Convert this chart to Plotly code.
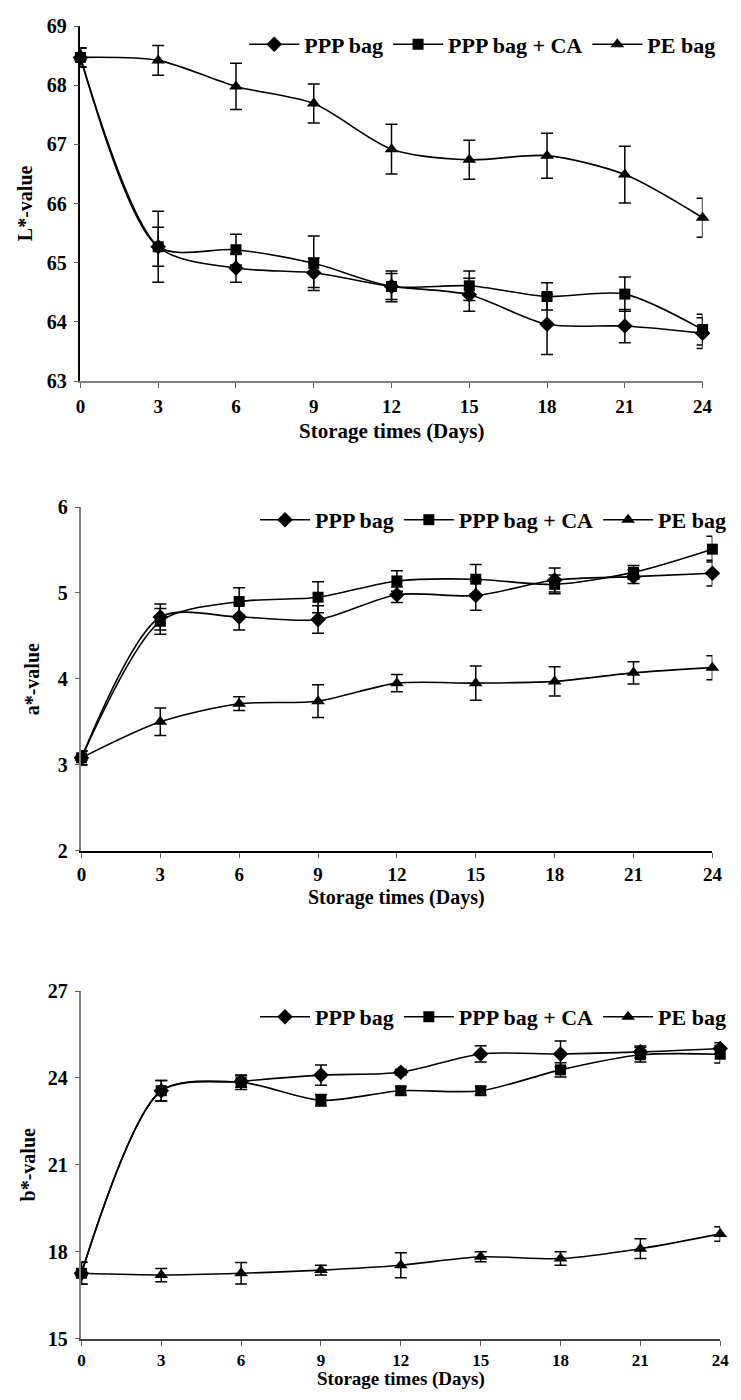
import plotly.graph_objects as go

days = [0, 3, 6, 9, 12, 15, 18, 21, 24]
x_ticks = [0, 3, 6, 9, 12, 15, 18, 21, 24]
series_names = ["PPP bag", "PPP bag + CA", "PE bag"]

# L*-value
L_ppp = [68.47, 65.27, 64.91, 64.83, 64.60, 64.46, 63.96, 63.93, 63.81]
L_ppp_err = [0.16, 0.33, 0.24, 0.25, 0.22, 0.28, 0.51, 0.28, 0.26]
L_ca = [68.47, 65.27, 65.22, 64.99, 64.60, 64.61, 64.43, 64.47, 63.87]
L_ca_err = [0.16, 0.60, 0.26, 0.46, 0.26, 0.25, 0.23, 0.29, 0.26]
L_pe = [68.47, 68.42, 67.98, 67.69, 66.92, 66.74, 66.81, 66.49, 65.76]
L_pe_err = [0.16, 0.25, 0.39, 0.33, 0.42, 0.33, 0.38, 0.48, 0.33]

# a*-value
a_ppp = [3.08, 4.72, 4.72, 4.69, 4.98, 4.97, 5.15, 5.19, 5.23]
a_ppp_err = [0.08, 0.15, 0.15, 0.16, 0.09, 0.17, 0.14, 0.08, 0.15]
a_ca = [3.08, 4.67, 4.90, 4.95, 5.14, 5.16, 5.10, 5.24, 5.51]
a_ca_err = [0.08, 0.15, 0.16, 0.18, 0.12, 0.17, 0.11, 0.08, 0.15]
a_pe = [3.08, 3.50, 3.71, 3.74, 3.95, 3.95, 3.97, 4.07, 4.13]
a_pe_err = [0.08, 0.16, 0.08, 0.19, 0.10, 0.20, 0.17, 0.13, 0.14]

# b*-value
b_ppp = [17.26, 23.56, 23.88, 24.10, 24.20, 24.83, 24.83, 24.90, 25.02]
b_ppp_err = [0.38, 0.35, 0.20, 0.35, 0.10, 0.28, 0.45, 0.20, 0.20]
b_ca = [17.26, 23.56, 23.85, 23.23, 23.56, 23.56, 24.28, 24.80, 24.82]
b_ca_err = [0.38, 0.35, 0.25, 0.20, 0.15, 0.15, 0.25, 0.25, 0.30]
b_pe = [17.26, 17.20, 17.26, 17.37, 17.54, 17.83, 17.77, 18.11, 18.62]
b_pe_err = [0.38, 0.23, 0.37, 0.17, 0.43, 0.17, 0.23, 0.34, 0.25]

W, H = 741, 1400
FONT = "Liberation Serif"

panels = [
    dict(data=[(L_ppp, L_ppp_err), (L_ca, L_ca_err), (L_pe, L_pe_err)],
         ytitle="L*-value", yrange=[63, 69], dtick=1,
         xpx=(77, 712), ypx=(15.3, 376), legend_y=34, legend_x=730,
         xtitle_y=427, ytitle_x=20, xcol="#808080", ycol="#000000",
         xstand=2, xtsize=21, xticksize=19),
    dict(data=[(a_ppp, a_ppp_err), (a_ca, a_ca_err), (a_pe, a_pe_err)],
         ytitle="a*-value", yrange=[2, 6], dtick=1,
         xpx=(78, 722), ypx=(504, 853), legend_y=517, legend_x=741,
         xtitle_y=901, ytitle_x=27, xcol="#000000", ycol="#808080",
         xstand=1, xtsize=20, xticksize=19),
    dict(data=[(b_ppp, b_ppp_err), (b_ca, b_ca_err), (b_pe, b_pe_err)],
         ytitle="b*-value", yrange=[15, 27], dtick=3,
         xpx=(78, 730), ypx=(995.7, 1349), legend_y=1022, legend_x=741,
         xtitle_y=1390, ytitle_x=23, xcol="#404040", ycol="#808080",
         xstand=0, xtsize=19, xticksize=17),
]

symbols = ["diamond", "square", "triangle-up"]
msizes = [12, 11, 12]

fig = go.Figure()
layout = dict(width=W, height=H, margin=dict(l=0, r=0, t=0, b=0),
              paper_bgcolor="white", plot_bgcolor="white",
              font=dict(family=FONT, size=20, color="black", weight="bold"),
              annotations=[])

for i, p in enumerate(panels):
    n = "" if i == 0 else str(i + 1)
    xa, ya = "x" + n, "y" + n
    leg = "legend" + n
    for (vals, errs), name, sym, ms in zip(p["data"], series_names, symbols, msizes):
        fig.add_trace(go.Scatter(
            x=days, y=vals, name=name, xaxis=xa, yaxis=ya, legend=leg,
            mode="lines+markers", cliponaxis=False,
            line=dict(color="black", width=1.6, shape="spline", smoothing=0.8),
            marker=dict(symbol=sym, size=ms, color="black"),
            error_y=dict(type="data", array=errs, visible=True,
                         color="black", thickness=1.5, width=6),
        ))
    x0, x1 = p["xpx"]
    ytop, ybot = p["ypx"]
    layout["xaxis" + n] = dict(
        domain=[x0 / W, x1 / W], anchor=ya, range=[0, 24],
        tickvals=x_ticks, ticks="outside", ticklen=5, tickcolor="#606060",
        ticklabelstandoff=p["xstand"],
        showline=True, linecolor=p["xcol"], linewidth=2, showgrid=False,
        zeroline=False,
        tickfont=dict(family=FONT, size=p["xticksize"], color="black",
                      weight="bold"),
        fixedrange=True)
    layout["yaxis" + n] = dict(
        domain=[1 - ybot / H, 1 - ytop / H], anchor=xa, range=p["yrange"],
        dtick=p["dtick"], tick0=p["yrange"][0], ticks="outside", ticklen=5,
        ticklabelstandoff=3,
        tickcolor="#606060", showline=True, linecolor=p["ycol"], linewidth=1.5,
        showgrid=False, zeroline=False,
        tickfont=dict(family=FONT, size=20, color="black", weight="bold"),
        fixedrange=True)
    layout[leg] = dict(
        orientation="h", x=p["legend_x"] / W, xanchor="right",
        y=1 - p["legend_y"] / H, yanchor="middle",
        bgcolor="rgba(0,0,0,0)",
        font=dict(family=FONT, size=22, color="black", weight="bold"),
        itemwidth=50, traceorder="normal")
    layout["annotations"].append(dict(
        text="<b>Storage times (Days)</b>", xref="paper", yref="paper",
        x=(x0 + x1) / 2 / W, y=1 - p["xtitle_y"] / H, xanchor="center",
        yanchor="middle", showarrow=False,
        font=dict(family=FONT, size=p["xtsize"], color="black")))
    layout["annotations"].append(dict(
        text="<b>" + p["ytitle"] + "</b>", xref="paper", yref="paper",
        x=p["ytitle_x"] / W, y=1 - (ytop + ybot) / 2 / H, xanchor="center",
        yanchor="middle", textangle=-90, showarrow=False,
        font=dict(family=FONT, size=20, color="black")))

fig.update_layout(**layout)

fig.write_html("out.html")
